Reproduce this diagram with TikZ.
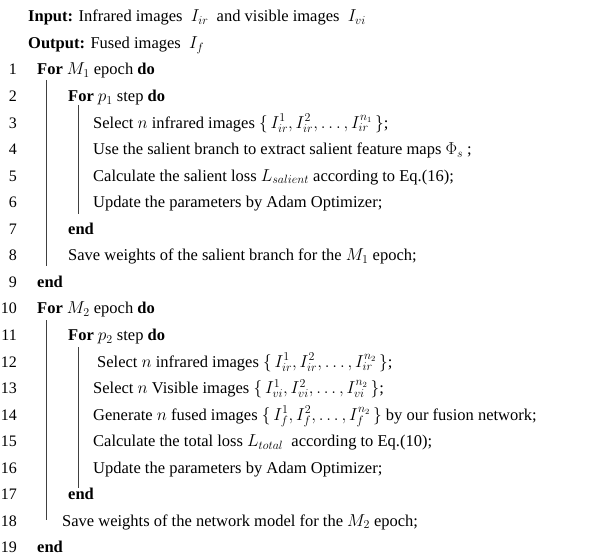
\documentclass[tikz,border=0pt]{standalone}
\usepackage{fontspec}
\setmainfont{Liberation Serif}
\begin{document}
\begin{tikzpicture}[x=1pt,y=-1pt,
  txt/.style={anchor=base west,inner sep=0pt,font=\fontsize{16.5}{18}\selectfont},
  num/.style={anchor=base east,inner sep=0pt,font=\fontsize{16}{18}\selectfont},
  bar/.style={line width=0.8pt,draw=black!75}]
\useasboundingbox[fill=white] (0,0) rectangle (612,556);
\def\L#1{\fpeval{75+(#1-1)*26.55}}
\node[txt] (in) at (28,22) {\textbf{Input:} Infrared images \ $I_{ir}$ \ and visible images \ $I_{vi}$};
\node[txt] (out) at (28,49) {\textbf{Output:} Fused images \ $I_f$};
\foreach \i in {1,...,19} {\node[num] (n\i) at (17,{\L{\i}}) {\i};}
\node[txt] (l1) at (37,{\L1}) {\textbf{For} $M_1$ epoch \textbf{do}};
\node[txt] (l2) at (68,{\L2}) {\textbf{For} $p_1$ step \textbf{do}};
\node[txt] (l3) at (93,{\L3}) {Select $n$ infrared images $\{\,I_{ir}^1, I_{ir}^2, \ldots, I_{ir}^{n_1}\,\}$;};
\node[txt] (l4) at (93,{\L4}) {Use the salient branch to extract salient feature maps $\Phi_s$ ;};
\node[txt] (l5) at (93,{\L5}) {Calculate the salient loss $L_{salient}$ according to Eq.(16);};
\node[txt] (l6) at (93,{\L6}) {Update the parameters by Adam Optimizer;};
\node[txt] (l7) at (68,{\L7}) {\textbf{end}};
\node[txt] (l8) at (68,{\L8}) {Save weights of the salient branch for the $M_1$ epoch;};
\node[txt] (l9) at (37,{\L9}) {\textbf{end}};
\node[txt] (l10) at (37,{\L{10}}) {\textbf{For} $M_2$ epoch \textbf{do}};
\node[txt] (l11) at (68,{\L{11}}) {\textbf{For} $p_2$ step \textbf{do}};
\node[txt] (l12) at (97,{\L{12}}) {Select $n$ infrared images $\{\,I_{ir}^1, I_{ir}^2, \ldots, I_{ir}^{n_2}\,\}$;};
\node[txt] (l13) at (93,{\L{13}}) {Select $n$ Visible images $\{\,I_{vi}^1, I_{vi}^2, \ldots, I_{vi}^{n_2}\,\}$;};
\node[txt] (l14) at (93,{\L{14}}) {Generate $n$ fused images $\{\,I_{f}^1, I_{f}^2, \ldots, I_{f}^{n_2}\,\}$ by our fusion network;};
\node[txt] (l15) at (93,{\L{15}}) {Calculate the total loss $L_{total}$ \ according to Eq.(10);};
\node[txt] (l16) at (93,{\L{16}}) {Update the parameters by Adam Optimizer;};
\node[txt] (l17) at (68,{\L{17}}) {\textbf{end}};
\node[txt] (l18) at (62,{\L{18}}) {Save weights of the network model for the $M_2$ epoch;};
\node[txt] (l19) at (37,{\L{19}}) {\textbf{end}};
\coordinate (a1) at (46,80); \coordinate (a2) at (46,266);
\coordinate (b1) at (78,105); \coordinate (b2) at (78,214);
\coordinate (c1) at (46,320); \coordinate (c2) at (46,520);
\coordinate (d1) at (78,347); \coordinate (d2) at (78,488);
\draw[bar] (a1) -- (a2); \draw[bar] (b1) -- (b2);
\draw[bar] (c1) -- (c2); \draw[bar] (d1) -- (d2);
\end{tikzpicture}
\end{document}
